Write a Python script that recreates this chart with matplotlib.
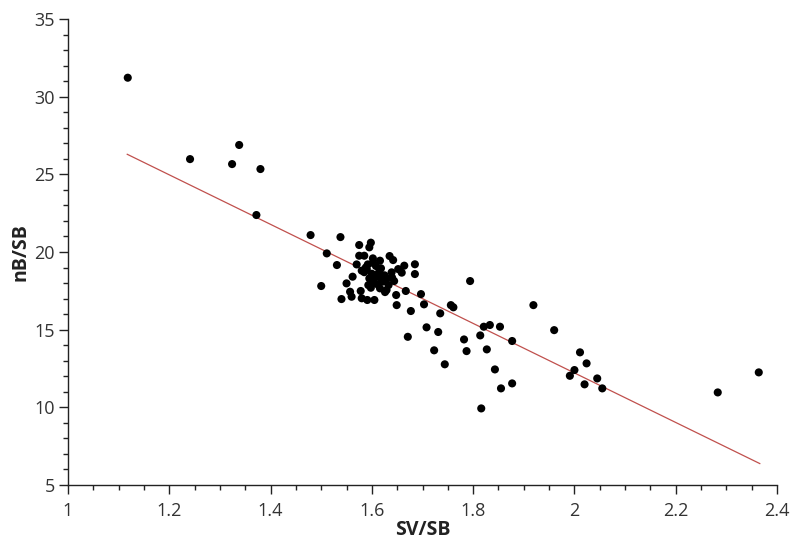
import matplotlib
matplotlib.use("Agg")
import matplotlib.pyplot as plt
import numpy as np
from matplotlib.ticker import MultipleLocator

plt.rcParams['font.family'] = ['Open Sans', 'DejaVu Sans']

sv_sb = [1.118, 1.241, 1.324, 1.338, 1.380, 1.372, 1.479, 1.511, 1.500, 1.538, 1.531, 1.540,
         1.575, 1.598, 1.595, 1.575, 1.585, 1.602, 1.616, 1.635, 1.642, 1.664, 1.685, 1.685,
         1.659, 1.639, 1.562, 1.550, 1.557, 1.560, 1.578, 1.580, 1.591, 1.605, 1.593, 1.616,
         1.629, 1.633, 1.644, 1.648, 1.667, 1.649, 1.677, 1.697, 1.703, 1.735, 1.756, 1.761,
         1.794, 1.626, 1.919, 1.960, 1.708, 1.731, 1.671, 1.782, 1.814, 1.821, 1.833, 1.853,
         1.877, 1.723, 1.787, 1.827, 1.744, 1.843, 1.877, 1.855, 1.816, 2.011, 2.024, 2.000,
         1.991, 2.045, 2.020, 2.055, 2.283, 2.364,
         1.590, 1.600, 1.610, 1.620, 1.605, 1.595, 1.585, 1.615, 1.625, 1.612, 1.598, 1.588,
         1.608, 1.622, 1.630, 1.602, 1.592, 1.618, 1.580, 1.570, 1.611, 1.640, 1.600, 1.652]
nb_sb = [31.22, 25.98, 25.66, 26.89, 25.34, 22.38, 21.09, 19.91, 17.81, 20.96, 19.16, 16.97,
         20.45, 20.60, 20.30, 19.76, 19.76, 19.59, 19.44, 19.74, 19.48, 19.12, 19.21, 18.58,
         18.67, 18.69, 18.41, 17.98, 17.44, 17.12, 17.49, 17.02, 16.91, 16.91, 17.87, 17.66,
         17.55, 17.87, 18.13, 17.23, 17.49, 16.58, 16.20, 17.29, 16.63, 16.05, 16.58, 16.44,
         18.13, 17.42, 16.58, 14.97, 15.15, 14.85, 14.54, 14.37, 14.63, 15.19, 15.30, 15.19,
         14.27, 13.67, 13.62, 13.73, 12.77, 12.44, 11.54, 11.22, 9.93, 13.54, 12.83, 12.40,
         12.03, 11.86, 11.48, 11.22, 10.96, 12.25,
         18.90, 18.60, 18.40, 18.20, 18.00, 18.30, 18.70, 18.80, 18.50, 17.90, 17.70, 19.00,
         19.10, 18.10, 18.30, 19.30, 19.20, 18.95, 18.80, 19.20, 18.55, 18.35, 18.15, 18.90]

fit_x = [1.117, 2.366]
fit_y = [26.29, 6.38]

fig = plt.figure(figsize=(7.94, 5.47), dpi=100)
ax = fig.add_axes([68/794, 62/547, 709/794, 466/547])

ax.plot(fit_x, fit_y, color='#c0504d', lw=0.9, zorder=1)
ax.scatter(sv_sb, nb_sb, s=34, color='black', edgecolors='none', zorder=2)

ax.set_xlim(1, 2.4)
ax.set_ylim(5, 35)
ax.xaxis.set_major_locator(MultipleLocator(0.2))
ax.xaxis.set_minor_locator(MultipleLocator(0.05))
ax.yaxis.set_major_locator(MultipleLocator(5))
ax.yaxis.set_minor_locator(MultipleLocator(1))
ax.set_xticks([1, 1.2, 1.4, 1.6, 1.8, 2, 2.2, 2.4])
ax.set_xticklabels(['1', '1.2', '1.4', '1.6', '1.8', '2', '2.2', '2.4'])

for s in ['top', 'right']:
    ax.spines[s].set_visible(False)
for s in ['left', 'bottom']:
    ax.spines[s].set_color('#222222')
    ax.spines[s].set_linewidth(1.0)

ax.tick_params(which='major', direction='out', length=6.5, width=1, color='#222222',
               labelsize=13, labelcolor='#333333', pad=3)
ax.tick_params(axis='x', which='major', pad=6)
ax.tick_params(which='minor', direction='out', length=3.5, width=1, color='#222222')

ax.set_xlabel('SV/SB', fontsize=14, fontweight='bold', color='#222222', labelpad=0)
ax.set_ylabel('nB/SB', fontsize=14, fontweight='bold', color='#222222', labelpad=3)

fig.savefig('out.png', dpi=100)
